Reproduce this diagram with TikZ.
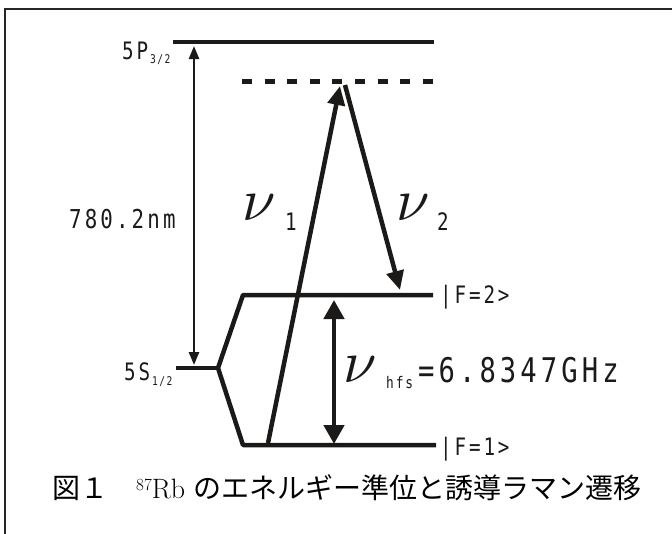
\documentclass[tikz,border=0pt]{standalone}
\usepackage{graphicx}
\usepackage{fontspec}
\newfontfamily\labfont[FakeStretch=0.8, LetterSpace=12]{DejaVu Sans Mono}
\newfontfamily\cjkfont{Noto Sans CJK JP}
\usetikzlibrary{arrows.meta}
\definecolor{ink}{HTML}{1C1A19}
\newcommand\sz[1]{\fontsize{#1}{#1}\selectfont}
\newcommand\bignu{\scalebox{6}{$\nu$}}

\begin{document}
\begin{tikzpicture}
  [x=1pt, y=-1pt,
  level/.style={draw=ink, line width=4.5pt},
  virtual/.style={draw=ink, line width=5pt, dash pattern=on 10pt off 12.6pt},
  gap/.style={draw=ink, line width=2.5pt, {Triangle[width=10pt,length=13pt]}-{Triangle[width=10pt,length=13pt]}},
  beam/.style={draw=ink, line width=4.5pt, -{Triangle[width=17pt,length=19pt]}},
  split/.style={draw=ink, line width=4.5pt, {Triangle[width=20pt,length=19pt]}-{Triangle[width=20pt,length=19pt]}},
  txt/.style={inner sep=0pt, anchor=base west, text=ink, font=\labfont},
  nu/.style={inner sep=0pt, anchor=base, text=ink, font=\sz{10}}]
  \useasboundingbox (0,0) rectangle (672,533);
  \draw[black!85, line width=2pt] (5,545) -- (5,9) -- (685,9);

  \coordinate (p_l) at (173,42);
  \coordinate (p_r) at (434,42);
  \coordinate (v_l) at (242,81);
  \coordinate (v_r) at (433,81);
  \coordinate (s_l) at (176,368);
  \coordinate (fork) at (218,368);
  \coordinate (f2_l) at (243,295);
  \coordinate (f2_r) at (433,295);
  \coordinate (f1_l) at (243,445);
  \coordinate (f1_r) at (436,445);

  \draw[level] (p_l) -- (p_r);
  \draw[virtual] (v_l) -- (v_r);
  \draw[level] (s_l) -- (fork);
  \draw[level, line join=bevel] (f2_r) -- (f2_l) -- (fork) -- (f1_l) -- (f1_r);

  \coordinate (d_top) at (194,46);
  \coordinate (d_bot) at (194,365);
  \coordinate (n1_s) at (268,443);
  \coordinate (n1_e) at (340,86);
  \coordinate (n2_s) at (345,85);
  \coordinate (n2_e) at (400,290);
  \coordinate (h_top) at (334,300);
  \coordinate (h_bot) at (334,444);

  \draw[gap] (d_top) -- (d_bot);
  \draw[beam] (n1_s) -- (n1_e);
  \draw[beam] (n2_s) -- (n2_e);
  \draw[split] (h_top) -- (h_bot);

  \node[txt, font=\labfont\sz{24}] (p_lab) at (122,59) {5P\hspace{2pt}\raisebox{-4pt}{\sz{12}3/2}};
  \node[txt, font=\labfont\sz{24}] (s_lab) at (124,380) {5S\hspace{2pt}\raisebox{-5pt}{\sz{12}1/2}};
  \node[txt, font=\labfont\sz{26}] (wave) at (69,228) {780.2nm};
  \node[txt, font=\labfont\sz{24}] (f2_lab) at (440,303) {|F=2>};
  \node[txt, font=\labfont\sz{24}] (f1_lab) at (440,455) {|F=1>};

  \node[nu] (nu1) at (259,220) {\bignu};
  \node[txt, font=\labfont\sz{24}] (nu1_sub) at (285,230) {1};
  \node[nu] (nu2) at (413,220) {\bignu};
  \node[txt, font=\labfont\sz{24}] (nu2_sub) at (437,230) {2};
  \node[nu] (nuh) at (360,382) {\bignu};
  \node[txt, font=\labfont\sz{16}] (nuh_sub) at (386,388) {hfs};
  \node[txt, font=\labfont\sz{34}] (nuh_val) at (418,382) {=6.8347GHz};

  \node[inner sep=0pt, anchor=base west, font=\sz{28}] (caption) at (52,498)
    {{\cjkfont 図１　}\raisebox{8pt}{\sz{17}87}Rb {\cjkfont のエネルギー準位と誘導ラマン遷移}};
\end{tikzpicture}
\end{document}
